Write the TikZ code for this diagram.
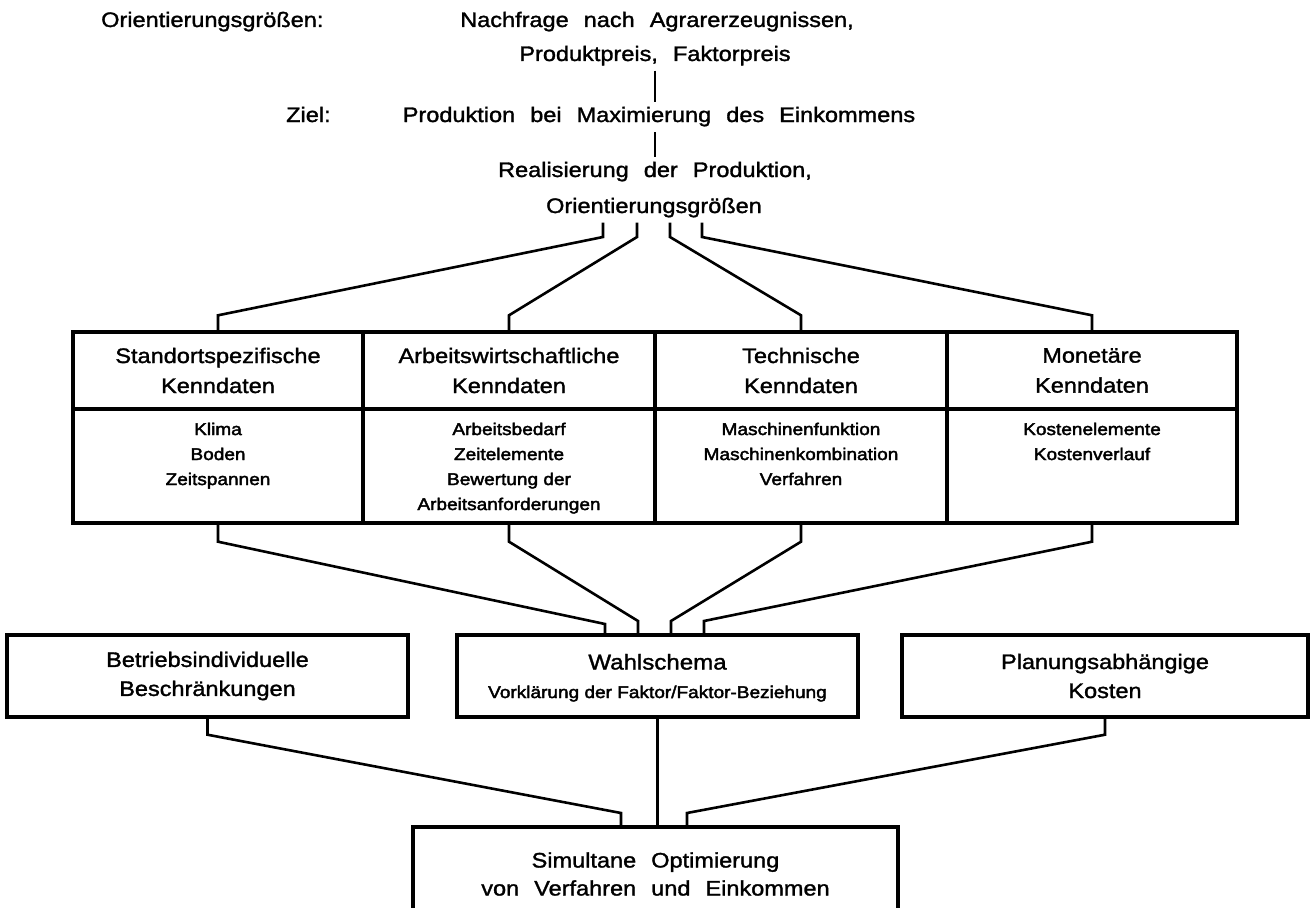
\documentclass[tikz,border=0pt]{standalone}
\usepackage{fontspec}
\setmainfont{Liberation Sans}[FakeStretch=1.12,FakeBold=1.5]
\newfontfamily\widefont{Liberation Sans}[FakeStretch=1.12,FakeBold=1.5,WordSpace=2.3]
\newfontfamily\smallfont{Liberation Sans}[FakeStretch=1.12,FakeBold=2.4]
\usetikzlibrary{calc}
\begin{document}
\begin{tikzpicture}[x=1pt,y=-1pt,
  toptxt/.style={inner xsep=0pt,inner ysep=5pt,font=\widefont\fontsize{21}{26}\selectfont},
  boxline/.style={draw,line width=3.4pt,inner sep=0pt,align=center},
  headcell/.style={boxline,font=\fontsize{21}{30}\selectfont},
  bodycell/.style={boxline},
  bodytxt/.style={inner sep=0pt,align=center,anchor=north,font=\smallfont\fontsize{17}{25}\selectfont},
  rowbox/.style={boxline,minimum width=401,minimum height=82,font=\fontsize{21}{29}\selectfont},
  conn/.style={draw,line width=2.6pt}]
\useasboundingbox (0,0) rectangle (1311,907);
\fill[white] (0,0) rectangle (1311,907);
\clip (0,0) rectangle (1311,907);

% top texts
\node[toptxt,anchor=base west] (ol) at (101,27) {Orientierungsgrößen:};
\node[toptxt,anchor=base] (nf) at (657,27) {Nachfrage nach Agrarerzeugnissen,};
\node[toptxt,anchor=base] (pp) at (655,61) {Produktpreis, Faktorpreis};
\node[toptxt,anchor=base west] (zl) at (286,122) {Ziel:};
\node[toptxt,anchor=base] (pm) at (659,122) {Produktion bei Maximierung des Einkommens};
\node[toptxt,anchor=base] (rp) at (655,177) {Realisierung der Produktion,};
\node[toptxt,anchor=base] (og) at (654,213) {Orientierungsgrößen};

\draw[conn] (pp.south) -- (pp.south |- pm.north);
\draw[conn] (rp.north) -- (rp.north |- pm.south);

% table header
\node[headcell,minimum width=290,minimum height=77] (h1) at (218,370.5) {Standortspezifische\\Kenndaten};
\node[headcell,minimum width=292,minimum height=77] (h2) at (509,370.5) {Arbeitswirtschaftliche\\Kenndaten};
\node[headcell,minimum width=292,minimum height=77] (h3) at (801,370.5) {Technische\\Kenndaten};
\node[headcell,minimum width=290,minimum height=77] (h4) at (1092,370.5) {Monetäre\\Kenndaten};
% table body
\node[bodycell,minimum width=290,minimum height=114] (b1) at (218,466) {};
\node[bodycell,minimum width=292,minimum height=114] (b2) at (509,466) {};
\node[bodycell,minimum width=292,minimum height=114] (b3) at (801,466) {};
\node[bodycell,minimum width=290,minimum height=114] (b4) at (1092,466) {};
\node[bodytxt] (t1) at (218,422.5) {Klima\\Boden\\Zeitspannen};
\node[bodytxt] (t2) at (509,422.5) {Arbeitsbedarf\\Zeitelemente\\Bewertung der\\Arbeitsanforderungen};
\node[bodytxt] (t3) at (801,422.5) {Maschinenfunktion\\Maschinenkombination\\Verfahren};
\node[bodytxt] (t4) at (1092,422.5) {Kostenelemente\\Kostenverlauf};

% connectors Orientierungsgrößen -> table
\coordinate (o1) at (603,237);
\coordinate (o2) at (637,237);
\coordinate (o3) at (670,237);
\coordinate (o4) at (702,237);
\draw[conn] (og.south -| o1) -- (o1) -- ($(h1.north)+(0,-15)$) -- (h1.north);
\draw[conn] (og.south -| o2) -- (o2) -- ($(h2.north)+(0,-15)$) -- (h2.north);
\draw[conn] (og.south -| o3) -- (o3) -- ($(h3.north)+(0,-15)$) -- (h3.north);
\draw[conn] (og.south -| o4) -- (o4) -- ($(h4.north)+(0,-15)$) -- (h4.north);

% second row boxes
\node[rowbox] (bi) at (207.5,676) {Betriebsindividuelle\\Beschränkungen};
\node[boxline,minimum width=401,minimum height=82] (wahl) at (657.5,676) {};
\node[inner sep=0pt,anchor=base,font=\fontsize{21.5}{26}\selectfont] (wt) at ($(wahl.center)+(0,-6.5)$) {Wahlschema};
\node[inner sep=0pt,anchor=base,font=\smallfont\fontsize{17}{22}\selectfont] (ws) at ($(wahl.center)+(0,22)$) {Vorklärung der Faktor/Faktor-Beziehung};
\node[rowbox,minimum width=406] (pk) at (1105,676) {Planungsabhängige\\Kosten};

% connectors table -> Wahlschema
\coordinate (w1) at (605,624);
\coordinate (w2) at (638,621);
\coordinate (w3) at (671,621);
\coordinate (w4) at (704,621);
\draw[conn] (b1.south) -- ++(0,17) -- (w1) -- (w1 |- wahl.north);
\draw[conn] (b2.south) -- ++(0,17) -- (w2) -- (w2 |- wahl.north);
\draw[conn] (b3.south) -- ++(0,17) -- (w3) -- (w3 |- wahl.north);
\draw[conn] (b4.south) -- ++(0,17) -- (w4) -- (w4 |- wahl.north);

% bottom box
\node[boxline,minimum width=485,minimum height=94,font=\widefont\fontsize{21}{28}\selectfont] (sim) at (655.5,874) {Simultane Optimierung\\von Verfahren und Einkommen};

\coordinate (s1) at (621,813);
\coordinate (s3) at (687,813);
\draw[conn] (bi.south) -- ++(0,16) -- (s1) -- (s1 |- sim.north);
\draw[conn] (wahl.south) -- (wahl.south |- sim.north);
\draw[conn] (pk.south) -- ++(0,16) -- (s3) -- (s3 |- sim.north);
\end{tikzpicture}
\end{document}
